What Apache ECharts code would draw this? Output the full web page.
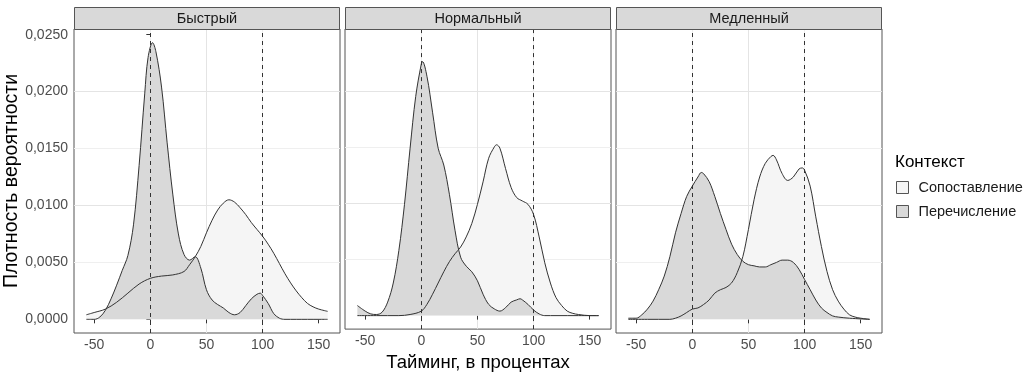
<!DOCTYPE html>
<html><head><meta charset="utf-8">
<script src="https://cdn.jsdelivr.net/npm/echarts@6/dist/echarts.min.js"></script>
<style>html,body{margin:0;padding:0;background:#fff}#c{width:1029px;height:377px}</style>
</head><body><div id="c"></div>
<script>
// ---- data ----
const panels = ['Быстрый', 'Нормальный', 'Медленный'];
const groups = ['Сопоставление', 'Перечисление'];
const xTicks = [-50, 0, 50, 100, 150];
const yTicks = [0, 0.005, 0.01, 0.015, 0.02, 0.025];
const refLines = [0, 100];

// Быстрый
const fastSopX = [-57,-50,-40,-30,-20,-10,0,10,20,30,35,40,45,50,55,60,65,70,75,80,85,90,95,100,105,110,115,120,125,130,135,140,145,150,158];
const fastSopY = [0.0004,0.0006,0.0009,0.0015,0.0023,0.0031,0.0036,0.0038,0.0039,0.0042,0.0048,0.0055,0.0064,0.0076,0.0087,0.0096,0.0102,0.0105,0.0103,0.0098,0.0092,0.0085,0.0079,0.0073,0.0066,0.0058,0.0049,0.0040,0.0032,0.0025,0.0019,0.0014,0.0011,0.0009,0.0007];
const fastPerX = [-57,-50,-45,-40,-35,-30,-25,-20,-15,-10,-5,-2,2,5,10,15,20,25,30,35,40,45,50,55,60,65,70,75,80,85,90,95,98,100,105,110,115,120,130,140,150,158];
const fastPerY = [0,0,0.0002,0.0008,0.0018,0.0030,0.0043,0.0056,0.0083,0.0135,0.0198,0.0230,0.0243,0.0235,0.0204,0.0155,0.0110,0.0075,0.0057,0.0052,0.0055,0.0045,0.0026,0.0017,0.0013,0.0010,0.0006,0.0004,0.0006,0.0012,0.0018,0.0022,0.0023,0.0021,0.0014,0.0005,0.0001,0,0,0,0,0];

// Нормальный
const normSopX = [-57,-40,-20,-10,0,5,10,15,20,25,30,35,40,45,50,55,60,65,67,70,75,80,85,90,95,100,105,110,115,120,125,130,135,140,150,158];
const normSopY = [0,0,0,0.0001,0.0004,0.0010,0.0019,0.0029,0.0039,0.0048,0.0055,0.0061,0.0070,0.0082,0.0099,0.0119,0.0140,0.0150,0.0152,0.0149,0.0131,0.0114,0.0105,0.0102,0.0099,0.0090,0.0070,0.0047,0.0029,0.0016,0.0009,0.0004,0.0002,0.0001,0,0];
const normPerX = [-57,-50,-45,-40,-35,-30,-25,-20,-15,-10,-5,0,1,5,10,15,20,25,30,35,40,45,50,55,60,65,70,75,80,85,88,90,95,100,105,110,120,140,158];
const normPerY = [0.0009,0.0004,0.00015,0.0001,0.0003,0.0012,0.0029,0.0058,0.0099,0.0149,0.0195,0.0224,0.0226,0.0213,0.0181,0.0149,0.0134,0.0108,0.0076,0.0052,0.0044,0.0039,0.0031,0.0019,0.0010,0.0006,0.0004,0.0007,0.0012,0.0014,0.0015,0.0014,0.0010,0.0005,0.00015,0,0,0,0];

// Медленный
const slowSopX = [-57,-40,-20,-15,-10,-5,0,5,10,15,20,25,30,35,40,45,50,55,60,65,70,72,75,80,85,90,95,98,100,105,110,115,120,125,130,135,140,145,150,158];
const slowSopY = [0,0,0,0.0001,0.0003,0.0006,0.0009,0.0010,0.0013,0.0017,0.0023,0.0026,0.0028,0.0032,0.0041,0.0055,0.0079,0.0105,0.0125,0.0137,0.0143,0.0144,0.0140,0.0128,0.0122,0.0125,0.0132,0.0133,0.0131,0.0117,0.0090,0.0064,0.0042,0.0026,0.0016,0.0009,0.0004,0.0002,0.0001,0];
const slowPerX = [-57,-50,-45,-40,-35,-30,-25,-20,-15,-10,-5,0,5,8,10,15,20,25,30,35,40,45,50,55,60,65,70,75,80,85,90,95,100,105,110,115,120,125,130,140,158];
const slowPerY = [0.0001,0.0001,0.0004,0.0009,0.0016,0.0026,0.0038,0.0055,0.0076,0.0093,0.0108,0.0117,0.0125,0.0129,0.0128,0.0121,0.0108,0.0093,0.0079,0.0066,0.0057,0.0051,0.0048,0.0047,0.0046,0.0046,0.0048,0.0050,0.0052,0.0052,0.0050,0.0044,0.0035,0.0026,0.0017,0.0010,0.0006,0.0003,0.0002,0.0001,0];

const panelData = [
  [[fastSopX, fastSopY], [fastPerX, fastPerY]],
  [[normSopX, normSopY], [normPerX, normPerY]],
  [[slowSopX, slowSopY], [slowPerX, slowPerY]]
];

// ---- style / layout ----
const FONT = '"Liberation Sans", Arial, sans-serif';
const fills = ['#f5f5f5', '#d9d9d9'];
const lefts = [74, 345, 616];
const PW = 266, PT = 29, PH = 304;
const X_MIN = -68, X_MAX = 169, Y_MIN = -0.0012, Y_MAX = 0.0255;
const gridColors = ['#efefef', '#e4e4e4'];

const grids = [], xAxes = [], yAxes = [], series = [], graphics = [];
panels.forEach((p, i) => {
  grids.push({left: lefts[i], top: PT, width: PW, height: PH, show: true,
    borderColor: '#555', borderWidth: 1, backgroundColor: '#fff', containLabel: false});
  xAxes.push({
    type: 'value', gridIndex: i, min: X_MIN, max: X_MAX, interval: 25,
    axisLine: {show: false},
    axisTick: {show: true, length: 4, lineStyle: {color: '#333'}, customValues: xTicks},
    axisLabel: {color: '#4d4d4d', fontSize: 14, fontFamily: FONT, margin: 5, customValues: xTicks},
    splitLine: {show: true, showMinLine: false, showMaxLine: false, lineStyle: {color: gridColors, width: 1}},
    name: i === 1 ? 'Тайминг, в процентах' : '',
    nameLocation: 'middle', nameGap: 22,
    nameTextStyle: {fontSize: 18.5, color: '#000', fontFamily: FONT}
  });
  yAxes.push({
    type: 'value', gridIndex: i, min: Y_MIN, max: Y_MAX, interval: 0.0025,
    axisLine: {show: false},
    axisTick: {show: i === 0, length: 4, lineStyle: {color: '#333'}, customValues: yTicks},
    axisLabel: {show: i === 0, color: '#4d4d4d', fontSize: 14, fontFamily: FONT, margin: 6, customValues: yTicks,
      formatter: v => v.toFixed(4).replace('.', ',')},
    splitLine: {show: true, showMinLine: false, showMaxLine: false, lineStyle: {color: gridColors, width: 1}},
    name: i === 0 ? 'Плотность вероятности' : '',
    nameLocation: 'middle', nameGap: 46,
    nameTextStyle: {fontSize: 19.5, color: '#000', fontFamily: FONT}
  });
  // areas
  groups.forEach((g, k) => {
    const [xs, ys] = panelData[i][k];
    series.push({
      name: g, type: 'line', xAxisIndex: i, yAxisIndex: i, smooth: 0.35, symbol: 'none', silent: true,
      data: xs.map((x, j) => [x, ys[j]]),
      lineStyle: {width: 0, opacity: 0}, itemStyle: {color: fills[k]},
      areaStyle: {color: fills[k], opacity: 1, origin: 0}, z: 2 + k
    });
  });
  // outlines
  groups.forEach((g, k) => {
    const [xs, ys] = panelData[i][k];
    const s = {
      name: g, type: 'line', xAxisIndex: i, yAxisIndex: i, smooth: 0.35, symbol: 'none', silent: true,
      data: xs.map((x, j) => [x, ys[j]]),
      lineStyle: {color: '#333', width: 1}, itemStyle: {color: fills[k]}, z: 5
    };
    if (k === 1) {
      s.markLine = {silent: true, symbol: 'none', label: {show: false},
        lineStyle: {color: '#333', type: [4, 4], width: 1},
        data: refLines.map(v => ({xAxis: v}))};
    }
    series.push(s);
  });
  // strips
  graphics.push({type: 'rect', shape: {x: lefts[i] + 0.5, y: 7.5, width: PW - 1, height: 22},
    style: {fill: '#d9d9d9', stroke: '#555', lineWidth: 1}, z: 10});
  graphics.push({type: 'text', x: lefts[i] + PW / 2, y: 18.5,
    style: {text: p, fill: '#1a1a1a', font: '14.5px ' + FONT, textAlign: 'center', textVerticalAlign: 'middle'}, z: 11});
});
graphics.push({type: 'text', x: 895, y: 162,
  style: {text: 'Контекст', fill: '#000', font: '17px ' + FONT, textAlign: 'left', textVerticalAlign: 'middle'}, z: 11});

const chart = echarts.init(document.getElementById('c'), null, {renderer: 'canvas'});
chart.setOption({
  animation: false,
  backgroundColor: '#fff',
  grid: grids, xAxis: xAxes, yAxis: yAxes, series: series,
  legend: {
    left: 896, top: 180, orient: 'vertical', icon: 'rect', itemWidth: 12, itemHeight: 12, itemGap: 9,
    selectedMode: false, padding: 0,
    textStyle: {fontSize: 14.5, color: '#1a1a1a', fontFamily: FONT, lineHeight: 12, padding: [0, 0, 0, 5]},
    data: groups.map((g, k) => ({name: g, itemStyle: {color: fills[k], borderColor: '#555', borderWidth: 1}}))
  },
  graphic: graphics
});
</script>
</body></html>
